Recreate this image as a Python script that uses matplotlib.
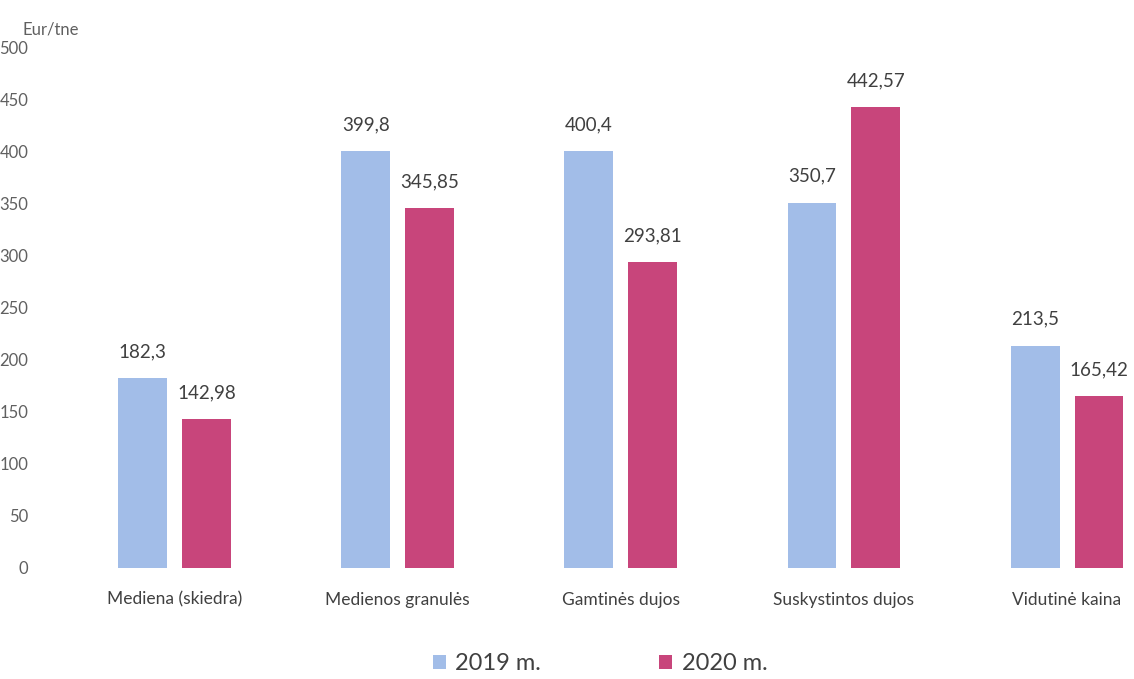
import numpy as np
import matplotlib as mpl
mpl.use("agg")
import matplotlib.pyplot as plt

plt.rcParams['font.family'] = ['Lato', 'DejaVu Sans']

# data
categories = ["Mediena (skiedra)", "Medienos granulės", "Gamtinės dujos",
              "Suskystintos dujos", "Vidutinė kaina"]
vals_2019 = [182.3, 399.8, 400.4, 350.7, 213.5]
vals_2020 = [142.98, 345.85, 293.81, 442.57, 165.42]
labels_2019 = ["182,3", "399,8", "400,4", "350,7", "213,5"]
labels_2020 = ["142,98", "345,85", "293,81", "442,57", "165,42"]
series_names = ["2019 m.", "2020 m."]
yticks = [0, 50, 100, 150, 200, 250, 300, 350, 400, 450, 500]

COLOR_19 = '#a2bde8'
COLOR_20 = '#c8457b'

W, H = 1134, 679
fig = plt.figure(figsize=(W / 100, H / 100), dpi=100)
ax = fig.add_axes([63 / W, (H - 568) / H, (W - 63) / W, (568 - 47) / H])

x = np.arange(len(categories))
bw = 0.219
off = 0.143
b1 = ax.bar(x - off, vals_2019, width=bw, color=COLOR_19, label=series_names[0])
b2 = ax.bar(x + off, vals_2020, width=bw, color=COLOR_20, label=series_names[1])

for rect, lab in zip(b1, labels_2019):
    ax.text(rect.get_x() + rect.get_width() / 2, rect.get_height() + 17, lab,
            ha='center', va='bottom', fontsize=13.5, color='#404040')
for rect, lab in zip(b2, labels_2020):
    ax.text(rect.get_x() + rect.get_width() / 2, rect.get_height() + 17, lab,
            ha='center', va='bottom', fontsize=13.5, color='#404040')

ax.set_xlim(-0.5, 4.3)
ax.set_ylim(0, 500)
ax.set_yticks(yticks)
ax.set_yticklabels([str(t) for t in yticks])
ax.set_xticks(x)
ax.set_xticklabels(categories)
ax.tick_params(axis='y', length=0, pad=25, labelsize=12, labelcolor='#606060')
ax.tick_params(axis='x', length=0, pad=17, labelsize=12.5, labelcolor='#404040')
for sp in ax.spines.values():
    sp.set_visible(False)

ax.text(-0.5 - 41 / 224, 509, "Eur/tne", fontsize=12, color='#606060',
        ha='left', va='bottom')

fig.legend(handles=[b1, b2], labels=series_names, loc='center',
           bbox_to_anchor=(600 / W, 1 - 664 / H), ncol=2, frameon=False,
           fontsize=17, handlelength=0.55, handleheight=0.55, columnspacing=5.0,
           handletextpad=0.4, labelcolor='#404040')

plt.savefig('out.png', dpi=100)
plt.close()
